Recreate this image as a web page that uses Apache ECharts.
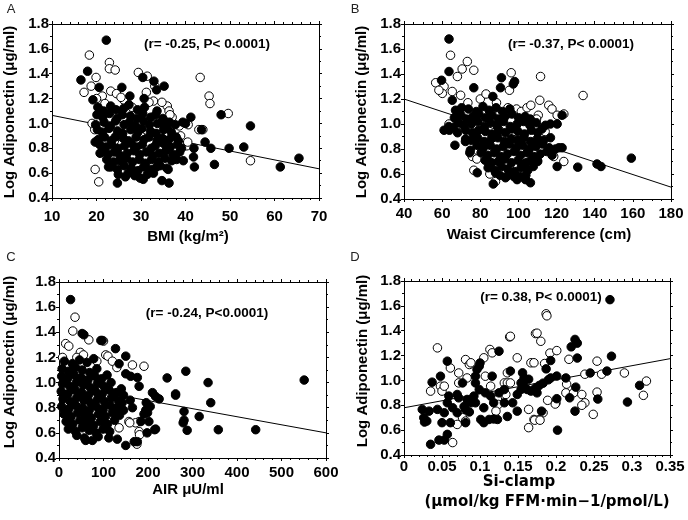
<!DOCTYPE html>
<html>
<head>
<meta charset="utf-8">
<script src="https://cdn.jsdelivr.net/npm/echarts@6/dist/echarts.min.js"></script>
<style>html,body{margin:0;padding:0;background:#fff}#c{width:688px;height:520px}</style>
</head>
<body>
<div id="c"></div>
<script>
// ---------- Panel A: BMI ----------
const aFilled = [
[22.2,1.67],[16.5,1.35],[18.0,1.42],[20.6,1.29],[25.7,1.29],[19.2,1.19],[30.4,1.37],[32.9,1.34],[33.5,1.27],[35.2,1.30],[27.5,1.22],[30.7,1.20],
[41.2,1.05],[40.0,1.00],[39.4,1.01],[37.7,0.99],[35.9,0.96],[43.6,0.95],[48.0,1.07],[54.6,0.98],[44.4,0.85],[45.7,0.80],[49.8,0.80],[53.1,0.81],
[61.3,0.65],[65.5,0.72],[46.5,0.67],[41.9,0.80],[41.8,0.73],[42.0,0.65],[39.5,0.70],[38.0,0.71],[38.7,0.77],[38.4,0.86],[36.3,0.52],[34.7,0.54],
[24.7,0.52],[29.8,0.56],[30.5,0.55],[26.5,0.57],[36.1,0.63],[33.5,0.65],[22.7,0.65],[19.7,0.85],[20.8,0.76],
[20.3,1.13],[21.6,1.10],[23.2,1.14],[24.4,1.11],[26.1,1.12],[27.3,1.15],[29.2,1.11],[30.8,1.13],[33.6,1.10],
[20.1,1.07],[21.4,1.05],[22.9,1.08],[24.6,1.04],[25.8,1.07],[27.6,1.06],[29.1,1.04],[30.4,1.08],[32.2,1.05],[33.3,1.07],[34.9,1.04],
[19.8,0.99],[21.7,1.01],[23.1,0.98],[24.3,1.02],[26.2,0.99],[27.4,1.01],[28.8,0.98],[30.6,1.02],[31.9,0.99],[33.7,1.00],[35.2,0.98],[36.4,1.01],
[20.2,0.95],[21.3,0.93],[22.8,0.96],[24.7,0.94],[25.9,0.92],[27.7,0.95],[29.3,0.93],[30.2,0.96],[32.1,0.94],[33.4,0.92],[35.1,0.95],[36.8,0.93],
[20.4,0.87],[21.8,0.89],[23.3,0.86],[24.2,0.89],[26.0,0.88],[27.2,0.86],[28.9,0.89],[30.7,0.87],[31.8,0.89],[33.6,0.86],[34.8,0.88],[36.3,0.87],[37.9,0.89],
[20.7,0.83],[22.1,0.81],[23.4,0.83],[24.8,0.80],[26.3,0.82],[27.8,0.84],[29.0,0.81],[30.3,0.83],[32.3,0.80],[33.2,0.82],[35.0,0.84],[36.6,0.81],[38.2,0.83],[39.1,0.80],
[21.2,0.77],[22.6,0.75],[24.0,0.77],[25.4,0.74],[26.9,0.76],[28.4,0.78],[29.7,0.75],[31.2,0.77],[32.7,0.74],[34.1,0.76],[35.6,0.78],[37.2,0.75],
[22.3,0.71],[23.8,0.69],[25.2,0.70],[26.7,0.72],[28.1,0.69],[29.6,0.71],[31.0,0.68],[32.4,0.71],[33.9,0.69],[35.4,0.72],[36.9,0.70],
[23.2,0.65],[24.7,0.63],[26.2,0.66],[27.8,0.64],[29.3,0.62],[30.6,0.65],[32.1,0.63],[34.3,0.66],[35.8,0.64],
[24.9,0.59],[27.1,0.60],[28.6,0.58],[31.4,0.59],[32.8,0.60]
];
const aOpen = [
[18.4,1.55],[22.9,1.49],[22.9,1.44],[24.2,1.43],[29.4,1.41],[19.9,1.37],[43.3,1.37],[45.3,1.22],[45.5,1.16],[49.6,1.08],[17.2,1.25],[23.2,1.26],
[19.7,0.63],[20.5,0.53],[54.6,0.70],[43.0,0.95],[43.9,0.95],[40.6,0.99],[35.9,1.14],[34.7,1.17],[32.8,1.18],[26.1,1.19],[19.0,1.00],[40.3,0.82],[34.0,0.91],
[18.8,1.30],[21.3,1.22],[20.0,1.20],[24.5,1.24],[25.5,1.21],[31.2,1.25],[31.8,1.17],[36.3,1.10],[37.0,1.05],[38.9,0.90],[22.7,0.74],[23.5,0.72],[25.0,0.68],
[33.1,1.30],[31.4,1.38],[28.0,1.13],[36.5,1.07],[38.6,0.98],[26.7,0.97],[29.9,0.90],[24.0,0.86],[32.5,0.78],[19.6,0.95],[21.9,1.16],[40.5,0.85],[37.6,0.74]
];
const aLine = [[10,1.065],[70,0.635]];

// ---------- Panel B: Waist ----------
const bFilled = [
[63.6,1.68],[63.6,1.42],[59.7,1.35],[76.6,1.29],[65.3,1.19],[90.6,1.29],[91.1,1.37],[98.0,1.34],[97.3,1.32],[86.6,1.22],[65.9,0.97],[63.8,0.95],
[66.7,0.83],[61.0,0.95],[63.5,0.98],[68.1,0.93],[74.5,0.77],[74.8,0.79],[72.2,0.86],[72.3,0.88],[122.9,1.07],[116.8,1.00],[114.2,0.99],[120.3,1.00],
[122.9,0.81],[121.2,0.81],[120.3,0.66],[131.1,0.655],[141.2,0.68],[143.3,0.66],[159.2,0.727],[110.0,0.71],[104.0,0.69],[103.7,0.555],[99.3,0.555],
[97.6,0.58],[86.8,0.52],[78.4,0.61],[106.3,0.53],[93.2,0.57],[88.0,0.61],
[67.0,1.11],[70.2,1.13],[73.8,1.12],[77.9,1.10],[81.4,1.14],[84.6,1.11],[88.3,1.13],[91.7,1.10],[95.5,1.12],
[66.4,1.05],[69.9,1.07],[72.6,1.04],[76.1,1.06],[79.3,1.08],[82.8,1.05],[86.2,1.07],[89.4,1.04],[93.0,1.06],[96.6,1.08],[100.1,1.05],[103.5,1.06],[106.2,1.04],
[68.3,1.01],[71.2,0.99],[75.3,1.00],[78.8,1.02],[82.1,0.98],[85.3,1.01],[88.8,0.99],[92.2,1.02],[95.7,0.98],[99.3,1.00],[102.7,1.02],[106.0,0.99],[109.4,1.01],
[72.4,0.95],[75.9,0.93],[79.1,0.95],[82.7,0.94],[86.1,0.92],[89.6,0.95],[93.1,0.93],[96.5,0.96],[99.8,0.94],[103.2,0.92],[106.8,0.95],[110.1,0.93],[112.3,0.96],
[75.2,0.87],[78.6,0.89],[82.0,0.86],[85.7,0.88],[89.2,0.89],[92.6,0.86],[96.1,0.88],[99.5,0.87],[102.9,0.89],[106.4,0.86],[109.8,0.88],[113.2,0.87],[116.8,0.89],
[78.3,0.83],[81.6,0.81],[85.2,0.83],[88.6,0.80],[92.0,0.82],[95.4,0.84],[98.9,0.81],[102.3,0.83],[105.7,0.80],[109.2,0.82],[112.6,0.84],[116.1,0.81],[119.4,0.80],
[80.4,0.77],[83.9,0.75],[87.3,0.77],[90.7,0.74],[94.2,0.76],[97.7,0.78],[101.1,0.75],[104.5,0.77],[108.0,0.74],[111.4,0.76],[114.8,0.78],[117.6,0.75],
[82.5,0.71],[86.0,0.69],[89.4,0.70],[92.9,0.72],[96.3,0.69],[99.8,0.71],[103.2,0.68],[106.6,0.71],[110.1,0.70],
[84.1,0.65],[87.6,0.63],[91.1,0.66],[94.5,0.64],[98.0,0.62],[101.4,0.65],[104.9,0.63],[107.8,0.66],
[90.3,0.59],[93.8,0.58],[97.2,0.60],[100.7,0.58],[103.9,0.59]
];
const bOpen = [
[64.4,1.55],[73.2,1.50],[70.5,1.44],[76.6,1.43],[68.0,1.38],[56.6,1.33],[61.0,1.30],[60.1,1.245],[58.3,1.27],[65.3,1.26],[69.7,1.23],[96.2,1.41],
[111.6,1.38],[95.3,1.27],[133.9,1.228],[111.2,1.19],[115.9,1.15],[117.6,1.12],[120.3,1.07],[123.8,1.08],[110.4,1.07],[109.5,1.04],[108.7,0.98],
[113.1,0.97],[114.0,0.94],[63.6,1.00],[70.9,0.985],[75.8,0.74],[76.6,0.63],[85.4,0.69],[88.0,0.54],[123.8,0.70],[118.5,0.74],[80.0,1.20],[83.0,1.24],
[88.5,1.17],[94.5,1.13],[99.0,1.12],[101.5,1.10],[104.5,1.13],[106.5,1.15],[78.2,0.72],[90.0,0.95],[96.0,0.79],[103.0,0.97],[73.5,1.17],[85.0,0.60]
];
const bLine = [[40,1.20],[180,0.495]];

// ---------- Panel C: AIR ----------
const cFilled = [
[26,1.66],[52,1.39],[56,1.38],[94,1.335],[97,1.335],[127,1.27],[150,1.21],[135,1.15],[150,1.07],[161,1.05],[176,1.04],[180,0.97],[210,0.92],[217,0.89],
[225,0.87],[243,1.037],[262,0.91],[262,0.90],[285,1.09],[195,0.78],[199,0.76],[191,0.75],[184,0.69],[202,0.69],[217,0.63],[281,0.77],[281,0.70],[279,0.68],
[288,0.62],[150,0.50],[169,0.53],[176,0.53],[131,0.55],[112,0.56],[60,0.54],[75,0.54],[335,1.00],[341,0.84],[315,0.73],[358,0.625],[442,0.625],[551,1.02],
[198,0.60],[215,0.625],[205,0.81],[196,0.84],[165,0.80],[160,0.86],[145,0.90],[140,0.95],
[12,1.17],[30,1.15],[46,1.18],[63,1.16],[78,1.19],
[7,1.11],[21,1.09],[37,1.12],[52,1.10],[69,1.08],[85,1.11],
[6,1.05],[19,1.03],[34,1.06],[50,1.04],[65,1.02],[81,1.05],[96,1.03],[108,1.06],
[8,0.99],[24,0.97],[39,1.00],[55,0.98],[70,0.96],[86,0.99],[101,0.97],[117,1.00],
[5,0.93],[20,0.91],[36,0.94],[51,0.92],[66,0.90],[82,0.93],[97,0.91],[113,0.94],[128,0.92],
[9,0.87],[25,0.85],[40,0.88],[56,0.86],[71,0.84],[87,0.87],[102,0.85],[118,0.88],[133,0.86],[142,0.84],
[6,0.81],[22,0.79],[37,0.82],[53,0.80],[68,0.78],[84,0.81],[99,0.79],[115,0.82],[130,0.80],[145,0.78],
[11,0.75],[27,0.73],[42,0.76],[58,0.74],[73,0.72],[89,0.75],[104,0.73],[120,0.76],[136,0.74],
[16,0.69],[31,0.67],[47,0.70],[62,0.68],[78,0.66],[93,0.69],[109,0.67],[125,0.70],
[21,0.63],[37,0.61],[52,0.64],[68,0.62],[83,0.60],[99,0.63],[114,0.61],
[40,0.58],[57,0.56],[88,0.57]
];
const cOpen = [
[36,1.52],[31,1.41],[15,1.31],[22,1.29],[67,1.34],[105,1.22],[110,1.21],[120,1.17],[191,1.13],[165,1.14],[15,1.12],[157,0.69],[180,0.69],[180,0.61],
[172,0.68],[181,0.585],[175,0.51],[159,0.68],[100,1.33],[48,1.24],[40,1.20],[55,1.22],[85,1.17],[130,1.12],[8,1.20],[25,0.72],[60,0.95],[90,0.84],
[45,0.80],[115,0.75],[135,0.64]
];
const cLine = [[0,0.985],[600,0.60]];

// ---------- Panel D: Si-clamp ----------
const dFilled = [
[0.035,0.486],[0.046,0.52],[0.053,0.52],[0.057,0.566],[0.026,0.70],[0.027,0.665],[0.030,0.673],[0.024,0.767],[0.033,0.753],[0.037,0.986],[0.048,1.034],
[0.057,1.155],[0.044,0.767],[0.050,0.66],[0.061,0.66],[0.070,0.74],[0.057,0.82],[0.059,0.874],[0.070,0.887],[0.072,0.86],[0.079,0.79],[0.081,0.767],
[0.083,0.847],[0.088,0.82],[0.086,0.746],[0.081,0.66],[0.077,0.98],[0.092,0.874],[0.094,0.82],[0.094,0.98],[0.094,1.034],[0.096,1.088],[0.099,1.115],
[0.100,1.14],[0.099,0.927],[0.105,0.78],[0.101,0.686],[0.114,0.874],[0.118,0.82],[0.123,0.686],[0.112,0.686],[0.118,0.69],[0.125,1.235],[0.116,1.034],
[0.132,0.927],[0.132,0.82],[0.140,1.075],[0.149,0.887],[0.154,0.927],[0.158,0.954],[0.156,1.061],[0.158,1.02],[0.162,0.927],[0.167,0.914],[0.173,0.94],
[0.149,0.753],[0.143,0.82],[0.053,0.74],[0.064,0.78],[0.107,0.90],[0.125,0.90],[0.136,0.71],[0.105,0.66],[0.154,0.98],[0.164,1.01],
[0.271,1.65],[0.225,1.33],[0.228,1.30],[0.220,1.27],[0.228,1.18],[0.273,1.195],[0.193,1.16],[0.187,1.093],[0.193,1.02],[0.201,1.035],[0.213,1.02],
[0.245,1.06],[0.267,1.075],[0.178,0.96],[0.175,0.90],[0.226,0.946],[0.218,0.86],[0.201,0.853],[0.181,0.753],[0.225,0.753],[0.255,0.85],[0.202,0.60],
[0.310,0.96],[0.294,0.826],[0.183,0.978],[0.190,1.005]
];
const dOpen = [
[0.044,1.262],[0.061,1.10],[0.048,0.954],[0.050,0.914],[0.035,0.914],[0.064,0.50],[0.072,0.98],[0.081,1.168],[0.086,1.128],[0.088,1.142],[0.083,1.02],
[0.105,1.182],[0.113,1.249],[0.116,1.222],[0.139,1.35],[0.140,1.355],[0.149,1.182],[0.114,0.954],[0.107,1.034],[0.132,0.98],[0.167,1.142],[0.171,1.142],
[0.173,1.377],[0.164,0.767],[0.171,0.686],[0.178,0.686],[0.136,0.98],[0.134,0.887],[0.123,0.847],[0.124,0.807],[0.077,0.70],[0.081,0.673],[0.070,0.646],
[0.121,0.753],[0.136,1.061],[0.140,0.98],[0.164,0.62],[0.072,1.06],[0.053,0.954],
[0.187,1.536],[0.188,1.52],[0.175,1.38],[0.180,1.315],[0.192,1.22],[0.201,1.24],[0.185,1.136],[0.217,1.17],[0.254,1.155],[0.260,1.05],[0.238,1.05],
[0.290,1.06],[0.319,0.995],[0.315,0.88],[0.214,0.97],[0.213,0.90],[0.223,0.90],[0.234,0.887],[0.254,0.906],[0.238,0.82],[0.234,0.80],[0.200,0.82],
[0.199,0.81],[0.189,0.84],[0.249,0.727],[0.183,0.74],[0.172,0.68],[0.179,0.68]
];
const dLine = [[0,0.78],[0.35,1.175]];

// ---------- Texts ----------
const yTitle = 'Log Adiponectin (μg/ml)';
const xTitles = ['BMI (kg/m²)', 'Waist Circumference (cm)', 'AIR μU/ml', 'Si-clamp', '(μmol/kg FFM·min−1/pmol/L)'];
const stats = ['(r= -0.25, P< 0.0001)', '(r= -0.37, P< 0.0001)', '(r= -0.24, P<0.0001)', '(r= 0.38, P< 0.0001)'];
const letters = ['A', 'B', 'C', 'D'];

const F = '"Liberation Sans", Arial, Helvetica, sans-serif';
const panels = [
  {grid:{left:52,top:24,width:267,height:174}, xr:[10,70,10,5], lm:11, filled:aFilled, open:aOpen, line:aLine, fmt:v=>String(v)},
  {grid:{left:404,top:24,width:267,height:175}, xr:[40,180,20,4], lm:7, filled:bFilled, open:bOpen, line:bLine, fmt:v=>String(v)},
  {grid:{left:59,top:282,width:267,height:176}, xr:[0,600,100,5], lm:7, filled:cFilled, open:cOpen, line:cLine, fmt:v=>String(v)},
  {grid:{left:404,top:281,width:266,height:174}, xr:[0,0.35,0.05,5], lm:4, filled:dFilled, open:dOpen, line:dLine, fmt:v=>String(+v.toFixed(2))}
];

const grids=[], xAxes=[], yAxes=[], series=[];
const axLine = {show:true, onZero:false, lineStyle:{color:'#000', width:1}};
const tick = {show:true, inside:false, length:3, lineStyle:{color:'#000', width:1}};
panels.forEach((p,i)=>{
  grids.push(p.grid);
  const lab = {color:'#000', fontFamily:F, fontWeight:'bold', fontSize:15};
  xAxes.push({type:'value', gridIndex:i, position:'bottom', min:p.xr[0], max:p.xr[1], interval:p.xr[2],
    axisLine:axLine, axisTick:tick, minorTick:{show:true, splitNumber:p.xr[3], length:2, lineStyle:{color:'#000'}},
    splitLine:{show:false}, axisLabel:Object.assign({margin:p.lm, formatter:p.fmt, showMinLabel:true, showMaxLabel:true}, lab)});
  xAxes.push({type:'value', gridIndex:i, position:'top', min:p.xr[0], max:p.xr[1], interval:p.xr[2],
    axisLine:axLine, axisTick:tick, minorTick:{show:true, splitNumber:p.xr[3], length:2, lineStyle:{color:'#000'}},
    splitLine:{show:false}, axisLabel:{show:false}});
  yAxes.push({type:'value', gridIndex:i, position:'left', min:0.4, max:1.8, interval:0.2,
    axisLine:axLine, axisTick:tick, minorTick:{show:true, splitNumber:2, length:2, lineStyle:{color:'#000'}},
    splitLine:{show:false}, axisLabel:Object.assign({margin:3, formatter:v=>v.toFixed(1)}, lab)});
  yAxes.push({type:'value', gridIndex:i, position:'right', min:0.4, max:1.8, interval:0.2,
    axisLine:axLine, axisTick:tick, minorTick:{show:true, splitNumber:2, length:2, lineStyle:{color:'#000'}},
    splitLine:{show:false}, axisLabel:{show:false}});
  series.push({type:'line', xAxisIndex:2*i, yAxisIndex:2*i, data:p.line, symbol:'none', silent:true,
    lineStyle:{color:'#000', width:1}, z:1});
  series.push({type:'scatter', xAxisIndex:2*i, yAxisIndex:2*i, data:p.open, symbol:'circle', symbolSize:8.5,
    itemStyle:{color:'#fff', borderColor:'#000', borderWidth:1, opacity:1}, z:2});
  series.push({type:'scatter', xAxisIndex:2*i, yAxisIndex:2*i, data:p.filled, symbol:'circle', symbolSize:8.5,
    itemStyle:{color:'#000', borderColor:'#000', borderWidth:1, opacity:1}, z:3});
});

function txt(x,y,s,opt){
  return Object.assign({type:'text', x:x, y:y, z:100, style:Object.assign({text:s, fill:'#000', font:'bold 15px '+F, textAlign:'center', textVerticalAlign:'middle'}, opt||{})});
}
const graphics = [
  txt(11,9,letters[0],{font:'13px '+F, fill:'#222'}),
  txt(355,9,letters[1],{font:'13px '+F, fill:'#222'}),
  txt(11,257,letters[2],{font:'13px '+F, fill:'#222'}),
  txt(355,257,letters[3],{font:'13px '+F, fill:'#222'}),
  Object.assign(txt(10,112,yTitle),{rotation:Math.PI/2}),
  Object.assign(txt(362,112,yTitle),{rotation:Math.PI/2}),
  Object.assign(txt(10,362,yTitle),{rotation:Math.PI/2}),
  Object.assign(txt(363,361,yTitle),{rotation:Math.PI/2}),
  txt(188,237,xTitles[0]),
  txt(539,235,xTitles[1]),
  txt(188,490,xTitles[2]),
  txt(519,482,xTitles[3],{font:'bold 15px "DejaVu Sans", sans-serif'}),
  txt(547,502,xTitles[4],{font:'bold 15px "DejaVu Sans", sans-serif'}),
  txt(207,44,stats[0],{font:'bold 13.5px '+F}),
  txt(571,44,stats[1],{font:'bold 13.5px '+F}),
  txt(207,313,stats[2],{font:'bold 13.5px '+F}),
  txt(541,297,stats[3],{font:'bold 13.5px '+F})
];

const chart = echarts.init(document.getElementById('c'), null, {renderer:'canvas'});
chart.setOption({animation:false, backgroundColor:'#fff', grid:grids, xAxis:xAxes, yAxis:yAxes, series:series, graphic:graphics});
</script>
</body>
</html>
